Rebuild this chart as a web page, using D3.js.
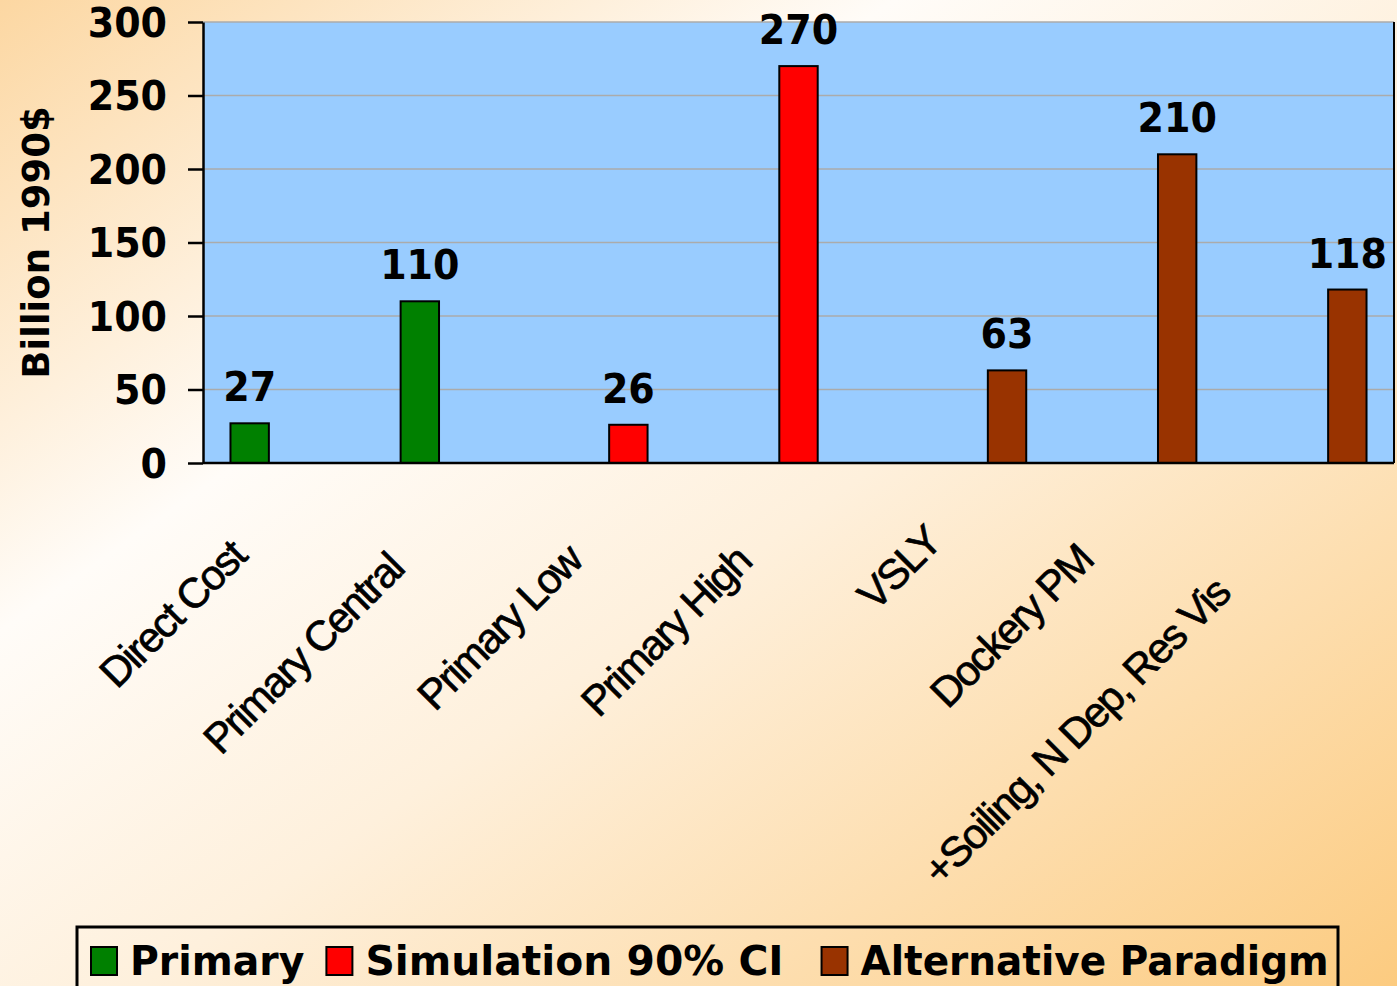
<!DOCTYPE html>
<html>
<head>
<meta charset="utf-8">
<script src="https://cdn.jsdelivr.net/npm/d3@7"></script>
<style>
  html, body { margin: 0; padding: 0; background: #fff; }
  svg { display: block; }
</style>
</head>
<body>
<svg id="chart" width="1397" height="986"></svg>
<script>
// Benefit estimates, billion 1990$
const categories = ["Direct Cost", "Primary Central", "Primary Low", "Primary High", "VSLY", "Dockery PM", "+Soiling, N Dep, Res Vis"];
const seriesNames = ["Primary", "Simulation 90% CI", "Alternative Paradigm"];
const primaryValues     = [27, 110, null, null, null, null, null];
const simulationValues  = [null, null, 26, 270, null, null, null];
const alternativeValues = [null, null, null, null, 63, 210, 118];
const seriesColors = ["#008000", "#FF0000", "#993300"];
const yTicks = [0, 50, 100, 150, 200, 250, 300];
const yTitle = "Billion 1990$";

const seriesValues = [primaryValues, simulationValues, alternativeValues];

const W = 1397, H = 986;
const plot = { left: 203, right: 1394, top: 22, bottom: 463 };
const boldFont = "'DejaVu Sans', Verdana, sans-serif";
const labelFont = "'Liberation Sans', Arial, sans-serif";

const svg = d3.select("#chart");

// compress glyphs horizontally so the bold face sits a little narrower
function squeeze(sel, k) {
  sel.each(function () {
    const L = this.getComputedTextLength();
    d3.select(this).attr("textLength", L * k).attr("lengthAdjust", "spacingAndGlyphs");
  });
}

// page background: warm diagonal gradient
const defs = svg.append("defs");
const bg = defs.append("linearGradient").attr("id", "bg")
  .attr("x1", 0).attr("y1", 0).attr("x2", 1).attr("y2", 1);
bg.append("stop").attr("offset", 0).attr("stop-color", "#FCD7A2");
bg.append("stop").attr("offset", 0.32).attr("stop-color", "#FFFCF8");
bg.append("stop").attr("offset", 0.55).attr("stop-color", "#FEF0DC");
bg.append("stop").attr("offset", 1).attr("stop-color", "#FCCB80");
svg.append("rect").attr("width", W).attr("height", H).attr("fill", "url(#bg)");

// scales
const x0 = d3.scaleBand().domain(categories)
  .range([plot.left, plot.right]).paddingInner(0.323).paddingOuter(0.1615);
const x1 = d3.scaleBand().domain(seriesNames).range([0, x0.bandwidth()]).padding(0);
const y = d3.scaleLinear().domain([0, 300]).range([plot.bottom, plot.top]);

// plot area
svg.append("rect")
  .attr("x", plot.left).attr("y", plot.top)
  .attr("width", plot.right - plot.left).attr("height", plot.bottom - plot.top)
  .attr("fill", "#99CCFF");

// gridlines
svg.append("g").selectAll("line")
  .data(yTicks.filter(d => d > 0))
  .join("line")
  .attr("x1", plot.left).attr("x2", plot.right)
  .attr("y1", d => y(d)).attr("y2", d => y(d))
  .attr("stroke", "#ABABAB").attr("stroke-width", 1.5);

// right border of the plot
svg.append("line")
  .attr("x1", plot.right).attr("x2", plot.right)
  .attr("y1", plot.top).attr("y2", plot.bottom)
  .attr("stroke", "#000").attr("stroke-width", 2);

// bars
const barData = [];
categories.forEach((c, i) => {
  seriesNames.forEach((s, j) => {
    const v = seriesValues[j][i];
    if (v !== null && v !== undefined) barData.push({ cat: c, series: s, value: v, color: seriesColors[j] });
  });
});

svg.append("g").selectAll("rect")
  .data(barData)
  .join("rect")
  .attr("x", d => x0(d.cat) + x1(d.series))
  .attr("y", d => y(d.value))
  .attr("width", x1.bandwidth())
  .attr("height", d => y(0) - y(d.value))
  .attr("fill", d => d.color)
  .attr("stroke", "#000").attr("stroke-width", 2);

// value labels
svg.append("g").selectAll("text")
  .data(barData)
  .join("text")
  .attr("x", d => x0(d.cat) + x1(d.series) + x1.bandwidth() / 2)
  .attr("y", d => y(d.value) - 22)
  .attr("text-anchor", "middle")
  .attr("font-family", boldFont).attr("font-weight", "bold")
  .attr("font-size", 40).attr("fill", "#000")
  .text(d => d.value)
  .call(squeeze, 0.95);

// y axis
const yAxis = svg.append("g")
  .attr("transform", `translate(${plot.left},0)`)
  .call(d3.axisLeft(y).tickValues(yTicks).tickSize(15).tickSizeOuter(0).tickPadding(21));
yAxis.select(".domain").attr("stroke", "#000").attr("stroke-width", 2.5);
yAxis.selectAll(".tick line").attr("stroke", "#000").attr("stroke-width", 2.5);
yAxis.selectAll(".tick text")
  .attr("font-family", boldFont).attr("font-weight", "bold")
  .attr("font-size", 40).attr("fill", "#000")
  .attr("dy", "0.36em")
  .call(squeeze, 0.95);

// x axis baseline
svg.append("line")
  .attr("x1", plot.left).attr("x2", plot.right)
  .attr("y1", plot.bottom).attr("y2", plot.bottom)
  .attr("stroke", "#000").attr("stroke-width", 2.5);

// y axis title
svg.append("text")
  .attr("transform", `translate(49,${(plot.top + plot.bottom) / 2}) rotate(-90)`)
  .attr("text-anchor", "middle")
  .attr("font-family", boldFont).attr("font-weight", "bold")
  .attr("font-size", 37).attr("fill", "#000")
  .text(yTitle);

// category labels, rotated -45°, end-anchored below each group
const catLabels = svg.append("g").selectAll("text")
  .data(categories)
  .join("text")
  .attr("text-anchor", "end")
  .attr("font-family", labelFont)
  .attr("font-size", 42).attr("letter-spacing", -2)
  .attr("fill", "#000")
  .attr("stroke", "#000").attr("stroke-width", 0.7)
  .text(d => d);
catLabels.each(function (d) {
  const L = this.getComputedTextLength();
  const c = x0(d) + x0.bandwidth() / 2;
  const shift = 0.163 * (L - 95);
  const ax = c - 25 - shift;
  const ay = 544 + shift;
  d3.select(this).attr("transform", `translate(${ax},${ay}) rotate(-45)`);
});

// legend
const legend = svg.append("g");
legend.append("rect")
  .attr("x", 77).attr("y", 927).attr("width", 1261).attr("height", 80)
  .attr("fill", "none").attr("stroke", "#000").attr("stroke-width", 3);
const legendGaps = [22, 38, 0];
const legendSqueeze = [0.96, 0.995, 0.95];
let lx = 91;
seriesNames.forEach((name, i) => {
  legend.append("rect")
    .attr("x", lx).attr("y", 947).attr("width", 26).attr("height", 28)
    .attr("fill", seriesColors[i]).attr("stroke", "#000").attr("stroke-width", 2);
  const t = legend.append("text")
    .attr("x", lx + 39).attr("y", 975)
    .attr("font-family", boldFont).attr("font-weight", "bold")
    .attr("font-size", 41).attr("fill", "#000")
    .text(name)
    .call(squeeze, legendSqueeze[i]);
  const tw = +t.attr("textLength");
  lx = lx + 39 + tw + legendGaps[i];
});
</script>
</body>
</html>
